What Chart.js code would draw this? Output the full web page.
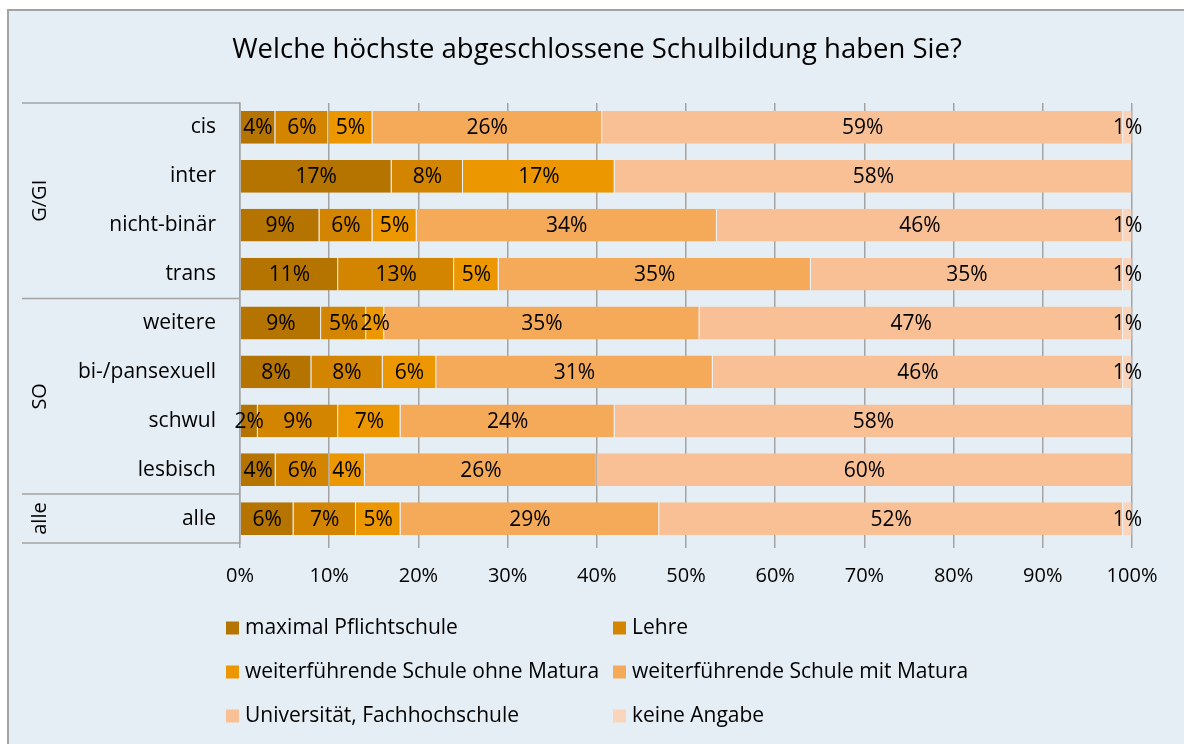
<!DOCTYPE html>
<html>
<head>
<meta charset="utf-8">
<script src="https://cdn.jsdelivr.net/npm/chart.js@4/dist/chart.umd.min.js"></script>
<style>
  html, body { margin: 0; padding: 0; background: #ffffff; }
  #wrap { width: 1184px; height: 744px; }
  canvas { display: block; }
</style>
</head>
<body>
<div id="wrap"><canvas id="c" width="1184" height="744"></canvas></div>
<script>
// Categories (rows, top to bottom) and their groups
const categories = ['cis', 'inter', 'nicht-binär', 'trans', 'weitere', 'bi-/pansexuell', 'schwul', 'lesbisch', 'alle'];
const groupNames = ['G/GI', 'SO', 'alle'];
const groupFirst = [0, 4, 8];
const groupLast = [3, 7, 8];

// Series names (legend order)
const seriesNames = [
  'maximal Pflichtschule',
  'Lehre',
  'weiterführende Schule ohne Matura',
  'weiterführende Schule mit Matura',
  'Universität, Fachhochschule',
  'keine Angabe'
];

// Percentages per row
const pflichtschule = [4, 17, 9, 11, 9, 8, 2, 4, 6];
const lehre         = [6, 8, 6, 13, 5, 8, 9, 6, 7];
const ohneMatura    = [5, 17, 5, 5, 2, 6, 7, 4, 5];
const mitMatura     = [26, 0, 34, 35, 35, 31, 24, 26, 29];
const universitaet  = [59, 58, 46, 35, 47, 46, 58, 60, 52];
const keineAngabe   = [1, 0, 1, 1, 1, 1, 0, 0, 1];

// Axis ticks
const xTickValues = [0, 10, 20, 30, 40, 50, 60, 70, 80, 90, 100];

const seriesValues = [pflichtschule, lehre, ohneMatura, mitMatura, universitaet, keineAngabe];
const seriesColors = ['#b57300', '#d38500', '#ec9600', '#f5aa5a', '#f8c094', '#fad5bc'];

const FONT = "'Open Sans', 'DejaVu Sans', sans-serif";
const BG = '#e6eef5';
const LINE = '#a3a3a3';

// 100% stacked: each row is scaled to its own total
const rowTotals = categories.map((_, i) => seriesValues.reduce((s, arr) => s + arr[i], 0));

const datasets = seriesValues.map((vals, k) => ({
  label: seriesNames[k],
  data: vals.map((v, i) => v / rowTotals[i] * 100),
  pct: vals,
  backgroundColor: seriesColors[k],
  borderColor: 'rgba(255,255,255,0.25)',
  borderWidth: { right: 1, left: 0, top: 0, bottom: 0 },
  borderSkipped: false,
  categoryPercentage: 0.67,
  barPercentage: 1.0
}));

const backgroundPlugin = {
  id: 'background',
  beforeDraw(chart) {
    const ctx = chart.ctx;
    ctx.save();
    ctx.fillStyle = '#ffffff';
    ctx.fillRect(0, 0, chart.width, chart.height);
    ctx.fillStyle = BG;
    ctx.fillRect(8, 10, chart.width - 8, chart.height - 10);
    ctx.fillStyle = LINE;
    ctx.fillRect(7, 9, chart.width - 7, 2);
    ctx.fillRect(7, 9, 2, chart.height - 9);
    ctx.restore();
  }
};

const titlePlugin = {
  id: 'titleText',
  afterDraw(chart) {
    const ctx = chart.ctx;
    ctx.save();
    ctx.font = '27.5px ' + FONT;
    ctx.fillStyle = '#000000';
    ctx.textAlign = 'center';
    ctx.textBaseline = 'middle';
    ctx.fillText('Welche höchste abgeschlossene Schulbildung haben Sie?', 597, 50);
    ctx.restore();
  }
};

const groupPlugin = {
  id: 'groups',
  afterDraw(chart) {
    const ctx = chart.ctx;
    const y = chart.scales.y;
    const area = chart.chartArea;
    const x0 = 22;
    const boundaries = [area.top];
    groupLast.forEach((last, g) => {
      if (g < groupLast.length - 1) {
        boundaries.push((y.getPixelForValue(last) + y.getPixelForValue(last + 1)) / 2);
      }
    });
    boundaries.push(area.bottom);
    ctx.save();
    ctx.strokeStyle = LINE;
    ctx.lineWidth = 1.5;
    boundaries.forEach(b => {
      ctx.beginPath();
      ctx.moveTo(x0, b);
      ctx.lineTo(area.left, b);
      ctx.stroke();
    });
    ctx.font = '20px ' + FONT;
    ctx.fillStyle = '#000000';
    ctx.textAlign = 'center';
    ctx.textBaseline = 'middle';
    groupNames.forEach((name, g) => {
      const cy = (boundaries[g] + boundaries[g + 1]) / 2;
      ctx.save();
      ctx.translate(40, cy);
      ctx.rotate(-Math.PI / 2);
      ctx.fillText(name, 0, 0);
      ctx.restore();
    });
    ctx.restore();
  }
};

const valueLabelPlugin = {
  id: 'valueLabels',
  afterDatasetsDraw(chart) {
    const ctx = chart.ctx;
    ctx.save();
    ctx.font = '21px ' + FONT;
    ctx.fillStyle = '#000000';
    ctx.textAlign = 'center';
    ctx.textBaseline = 'middle';
    chart.data.datasets.forEach((ds, k) => {
      const meta = chart.getDatasetMeta(k);
      meta.data.forEach((el, i) => {
        const v = ds.pct[i];
        if (!v) return;
        const cx = (el.x + el.base) / 2;
        ctx.fillText(v + '%', cx, el.y + 1);
      });
    });
    ctx.restore();
  }
};

const legendPlugin = {
  id: 'legendGrid',
  afterDraw(chart) {
    const ctx = chart.ctx;
    const colX = [226, 613];
    const rowY = [628, 672, 716];
    ctx.save();
    ctx.font = '21px ' + FONT;
    ctx.textAlign = 'left';
    ctx.textBaseline = 'middle';
    seriesNames.forEach((name, k) => {
      const x = colX[k % 2];
      const yy = rowY[Math.floor(k / 2)];
      ctx.fillStyle = seriesColors[k];
      ctx.fillRect(x, yy - 6.5, 13, 13);
      ctx.fillStyle = '#000000';
      ctx.fillText(name, x + 19, yy);
    });
    ctx.restore();
  }
};

function build() {
  new Chart(document.getElementById('c'), {
    type: 'bar',
    data: { labels: categories, datasets },
    plugins: [backgroundPlugin, groupPlugin, valueLabelPlugin, titlePlugin, legendPlugin],
    options: {
      indexAxis: 'y',
      responsive: false,
      animation: false,
      layout: { padding: { left: 0, right: 52, top: 103, bottom: 141 } },
      plugins: {
        legend: { display: false },
        title: { display: false },
        tooltip: { enabled: false }
      },
      scales: {
        x: {
          stacked: true,
          min: 0,
          max: 100,
          afterBuildTicks(scale) { scale.ticks = xTickValues.map(v => ({ value: v })); },
          afterFit(scale) { scale.height = 60; },
          ticks: {
            callback: v => v + '%',
            color: '#000000',
            font: { family: FONT, size: 20 },
            padding: 16,
            maxRotation: 0
          },
          grid: { color: LINE, lineWidth: 1.5, tickLength: 5, drawTicks: true },
          border: { display: false }
        },
        y: {
          stacked: true,
          afterFit(scale) { scale.width = 240; },
          ticks: {
            color: '#000000',
            font: { family: FONT, size: 21 },
            padding: 24
          },
          grid: { display: false, drawTicks: false },
          border: { display: true, color: LINE, width: 1.5 }
        }
      }
    }
  });
}

Promise.all([
  document.fonts.load('20px "Open Sans"'),
  document.fonts.load('27.5px "Open Sans"')
]).then(build, build);
</script>
</body>
</html>
